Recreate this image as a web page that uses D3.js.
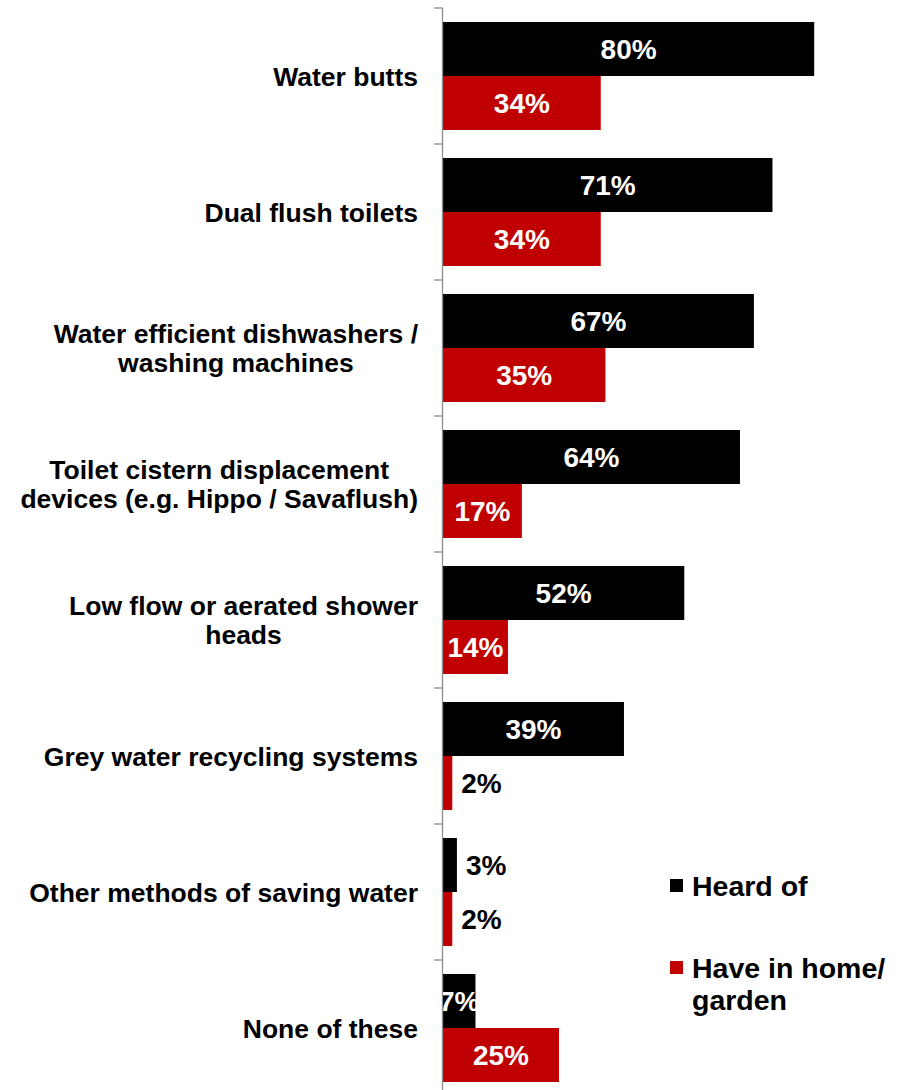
<!DOCTYPE html>
<html>
<head>
<meta charset="utf-8">
<script src="https://cdn.jsdelivr.net/npm/d3@7"></script>
<style>
  html, body { margin: 0; padding: 0; background: #fff; }
  svg { display: block; font-family: "Liberation Sans", Arial, sans-serif; font-weight: bold; }
</style>
</head>
<body>
<svg id="chart" width="900" height="1090"></svg>
<script>
// Water-saving devices: awareness vs. ownership (%)
const categories = [
  ["Water butts"],
  ["Dual flush toilets"],
  ["Water efficient dishwashers /", "washing machines"],
  ["Toilet cistern displacement", "devices (e.g. Hippo / Savaflush)"],
  ["Low flow or aerated shower", "heads"],
  ["Grey water recycling systems"],
  ["Other methods of saving water"],
  ["None of these"]
];
const heardOf    = [80, 71, 67, 64, 52, 39, 3, 7];
const haveInHome = [34, 34, 35, 17, 14, 2, 2, 25];
const seriesNames = ["Heard of", "Have in home/ garden"];
const seriesColors = ["#000000", "#c00000"];

const svg = d3.select("#chart");
const keys = categories.map((c, i) => i);

const axisX = 443;
const y = d3.scaleBand().domain(keys).range([8, 1096]).paddingInner(0).paddingOuter(0);
const inner = d3.scaleBand().domain([0, 1]).range([14, y.bandwidth() - 14]);
const x = d3.scaleLinear().domain([0, 100]).range([axisX, axisX + 464]);

const rows = keys.map(i => ({ i, values: [heardOf[i], haveInHome[i]] }));

// Bars
const groups = svg.append("g").selectAll("g")
  .data(rows).join("g")
  .attr("transform", d => `translate(0,${y(d.i)})`);

groups.selectAll("rect")
  .data(d => d.values.map((v, s) => ({ v, s })))
  .join("rect")
  .attr("x", x(0))
  .attr("y", d => inner(d.s))
  .attr("width", d => x(d.v) - x(0))
  .attr("height", inner.bandwidth())
  .attr("fill", d => seriesColors[d.s]);

// Value labels
groups.selectAll("text.val")
  .data(d => d.values.map((v, s) => ({ v, s })))
  .join("text")
  .attr("class", "val")
  .attr("font-size", 28)
  .attr("y", d => inner(d.s) + inner.bandwidth() / 2)
  .attr("dy", "0.36em")
  .attr("x", d => d.v < 5 ? x(d.v) + 9 : (x(0) + x(d.v)) / 2)
  .attr("text-anchor", d => d.v < 5 ? "start" : "middle")
  .attr("fill", d => d.v < 5 ? "#000" : "#fff")
  .text(d => d.v + "%");

// Axis line and ticks at category boundaries
const axisG = svg.append("g").attr("stroke", "#8c8c8c").attr("stroke-width", 1.3);
axisG.append("line")
  .attr("x1", axisX - 0.5).attr("x2", axisX - 0.5)
  .attr("y1", y(0)).attr("y2", 1090);
const boundaries = keys.map(i => y(i)).concat([y(keys[keys.length - 1]) + y.bandwidth()]);
axisG.selectAll("line.tick")
  .data(boundaries).join("line")
  .attr("class", "tick")
  .attr("x1", axisX - 9).attr("x2", axisX)
  .attr("y1", d => d).attr("y2", d => d);

// Category labels: lines centred within a block right-aligned to the axis
const labelRight = 418;
const lineH = 29;
const labelG = svg.append("g").attr("font-size", 26.5).attr("fill", "#000");
categories.forEach((lines, i) => {
  const t = labelG.append("text").attr("text-anchor", "middle");
  const spans = lines.map(l => t.append("tspan").text(l));
  const maxW = d3.max(spans, s => s.node().getComputedTextLength());
  const cx = labelRight - maxW / 2;
  const cy = y(i) + y.bandwidth() / 2;
  const top = cy - (lines.length - 1) * lineH / 2;
  spans.forEach((s, k) => s.attr("x", cx).attr("y", top + k * lineH).attr("dy", "0.36em"));
});

// Legend
const legend = svg.append("g").attr("font-size", 28.5);
const legendItems = [
  { lines: ["Heard of"], color: seriesColors[0], y: 886 },
  { lines: ["Have in home/", "garden"], color: seriesColors[1], y: 968 }
];
legendItems.forEach(it => {
  legend.append("rect")
    .attr("x", 670).attr("y", it.y - 7).attr("width", 13).attr("height", 13)
    .attr("fill", it.color);
  const t = legend.append("text").attr("fill", "#000");
  it.lines.forEach((l, k) => t.append("tspan")
    .attr("x", 692).attr("y", it.y + k * 32).attr("dy", "0.36em").text(l));
});
</script>
</body>
</html>
